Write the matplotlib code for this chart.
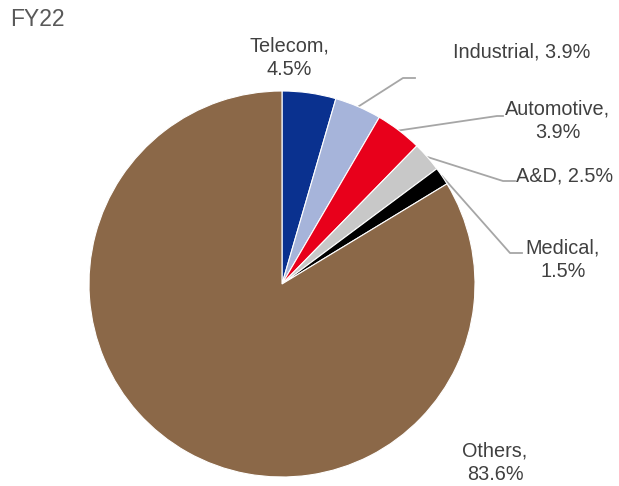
import numpy as np
import matplotlib
matplotlib.use("Agg")
import matplotlib.pyplot as plt

plt.rcParams['font.family'] = ['Liberation Sans', 'DejaVu Sans']

segmente = ["Telecom", "Industrial", "Automotive", "A&D", "Medical", "Others"]
paylar = [4.5, 3.9, 3.9, 2.5, 1.5, 83.6]
etiketler = ["Telecom,\n4.5%", "Industrial, 3.9%", "Automotive,\n3.9%",
             "A&D, 2.5%", "Medical,\n1.5%", "Others,\n83.6%"]
renkler = ["#0a318f", "#a6b4da", "#e8001b", "#c8c8c8", "#000000", "#8b6848"]

W, H = 619, 486
cx, cy, r = 282, 284, 193


def px(x, y):
    # piksel -> veri koordinati
    return (x - cx) / r, (cy - y) / r


def main():
    fig = plt.figure(figsize=(W / 100, H / 100), dpi=100)
    ax = fig.add_axes([(cx - r) / W, (H - cy - r) / H, 2 * r / W, 2 * r / H])

    wedges, _ = ax.pie(paylar, colors=renkler, startangle=90, counterclock=False,
                       radius=1, wedgeprops=dict(edgecolor="white", linewidth=0.8))
    ax.set_xlim(-1, 1)
    ax.set_ylim(-1, 1)
    ax.set_clip_on(False)

    # etiket konumlari (piksel) ve kirilma noktalari
    yerler = {
        0: dict(text=(289, 58), elbow=None),
        1: dict(text=(522, 52), elbow=((403, 78), (415, 78))),
        2: dict(text=(558, 121), elbow=((497, 116), (503, 116))),
        3: dict(text=(565, 176), elbow=((503, 181), (515, 181))),
        4: dict(text=(563, 260), elbow=((510, 253), (522, 253))),
        5: dict(text=(495, 463), elbow=None),
    }

    for i, w in enumerate(wedges):
        bilgi = yerler[i]
        tx, ty = px(*bilgi["text"])
        ax.text(tx, ty, etiketler[i], ha="center", va="center", fontsize=14.3,
                color="#404040", linespacing=1.3, clip_on=False)
        if bilgi["elbow"] is not None:
            aci = np.radians((w.theta1 + w.theta2) / 2)
            x0, y0 = np.cos(aci), np.sin(aci)
            (ex, ey), (fx, fy) = [px(*p) for p in bilgi["elbow"]]
            ax.plot([x0, ex, fx], [y0, ey, fy], color="#a6a6a6", lw=1.3,
                    clip_on=False, zorder=0)

    fig.text(10 / W, 1 - 19 / H, "FY22", fontsize=16.5, color="#595959",
             ha="left", va="center")

    fig.savefig("out.png", dpi=100)


if __name__ == "__main__":
    main()
